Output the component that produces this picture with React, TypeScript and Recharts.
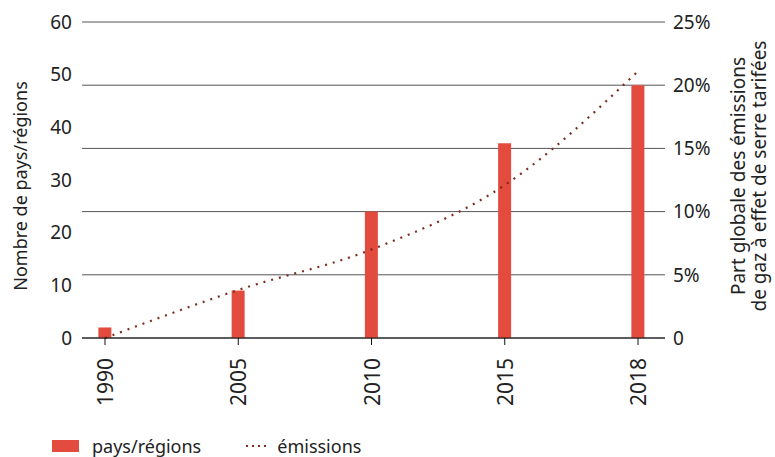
import { ComposedChart, Bar, Line, XAxis, YAxis, CartesianGrid, Label } from 'recharts';

const years = ['1990', '2005', '2010', '2015', '2018'];
const countries = [2, 9, 24, 37, 48];
const emissions = [0, 3.8, 7, 12.1, 21.1];
const leftTicks = [0, 10, 20, 30, 40, 50, 60];
const rightTicks = [0, 5, 10, 15, 20, 25];

const data = years.map((year, i) => ({ idx: i, year, countries: countries[i], emissions: emissions[i] }));

const FONT = '"Noto Sans", sans-serif';
const RED = '#e24b3e';
const LINE = '#7c2d1f';

const YearTick = (props: any) => {
  const { x, y, payload } = props;
  return (
    <text x={x} y={y} transform={`rotate(-90 ${x} ${y})`} textAnchor="end" dominantBaseline="central"
      fontSize={21} fill="#222" fontFamily={FONT}>
      {years[payload.value]}
    </text>
  );
};

const LeftTitle = (props: any) => {
  const { viewBox } = props;
  const cy = viewBox.y + viewBox.height / 2 + 6;
  return (
    <text x={20} y={cy} transform={`rotate(-90 20 ${cy})`} textAnchor="middle" dominantBaseline="central"
      fontSize={18} fill="#222" fontFamily={FONT}>
      Nombre de pays/régions
    </text>
  );
};

const RightTitle = (props: any) => {
  const { viewBox } = props;
  const cy = viewBox.y + viewBox.height / 2 - 4;
  return (
    <g transform={`rotate(-90 748 ${cy})`}>
      <text x={748} y={cy - 10.5} textAnchor="middle" dominantBaseline="central" fontSize={19} fill="#222" fontFamily={FONT}>
        Part globale des émissions
      </text>
      <text x={748} y={cy + 10.5} textAnchor="middle" dominantBaseline="central" fontSize={19} fill="#222" fontFamily={FONT}>
        de gaz à effet de serre tarifées
      </text>
    </g>
  );
};

export default function App() {
  return (
    <div style={{ position: 'absolute', left: 0, top: 0, width: 775, height: 457, background: '#fff', fontFamily: FONT, overflow: 'hidden' }}>
      <ComposedChart width={775} height={457} data={data} margin={{ top: 22, right: 50, bottom: 49, left: 30 }}>
        <CartesianGrid yAxisId="right" vertical={false} stroke="#555" horizontalValues={rightTicks} />
        <XAxis dataKey="idx" type="number" domain={[0, 4]} ticks={[0, 1, 2, 3, 4]} padding={{ left: 23, right: 27 }}
          height={70} stroke="#111" tickSize={7} tickMargin={13} tick={<YearTick />} interval={0} />
        <YAxis yAxisId="left" domain={[0, 60]} ticks={leftTicks} width={52} axisLine={false} tickLine={false}
          tickMargin={4} tick={{ fontSize: 19, fill: '#222', fontFamily: FONT }}>
          <Label content={<LeftTitle />} />
        </YAxis>
        <YAxis yAxisId="right" orientation="right" domain={[0, 25]} ticks={rightTicks} width={60} axisLine={false}
          tickLine={false} tickMargin={2} tickFormatter={(v: number) => (v === 0 ? '0' : `${v}%`)}
          tick={{ fontSize: 19, fill: '#222', fontFamily: FONT, textAnchor: 'start' }}>
          <Label content={<RightTitle />} />
        </YAxis>
        <Bar yAxisId="left" dataKey="countries" fill={RED} barSize={13} isAnimationActive={false} />
        <Line yAxisId="right" dataKey="emissions" type="monotone" stroke={LINE} strokeWidth={2.2}
          strokeDasharray="2 6" dot={false} activeDot={false} isAnimationActive={false} />
      </ComposedChart>
      <div style={{ position: 'absolute', left: 52, top: 435, height: 22, display: 'flex', alignItems: 'center', fontSize: 18, lineHeight: '22px', color: '#222' }}>
        <span style={{ display: 'inline-block', width: 27, height: 12, background: RED }} />
        <span style={{ marginLeft: 13 }}>pays/régions</span>
        <svg width={22} height={6} style={{ marginLeft: 44 }}>
          <line x1={1} y1={3} x2={22} y2={3} stroke={LINE} strokeWidth={2} strokeDasharray="2 4" />
        </svg>
        <span style={{ marginLeft: 10 }}>émissions</span>
      </div>
    </div>
  );
}
